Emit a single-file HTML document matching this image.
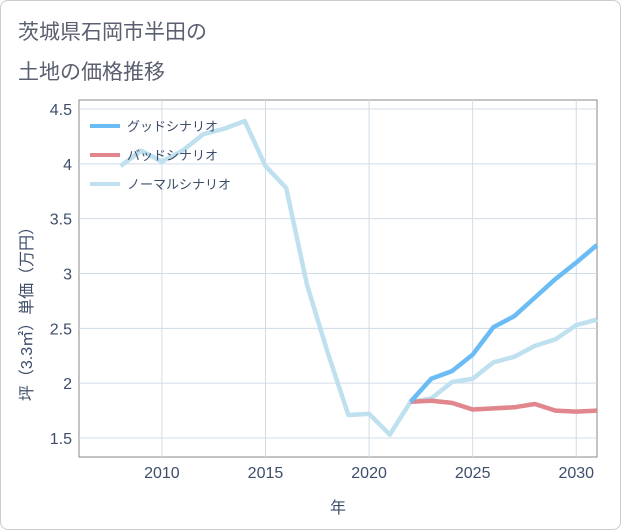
<!DOCTYPE html>
<html><head><meta charset="utf-8"><style>
body{margin:0;background:#fff;font-family:"Liberation Sans","Noto Sans CJK JP",sans-serif;}
#wrap{position:relative;width:621px;height:530px;overflow:hidden;}
#frame{position:absolute;left:0;top:0;width:619px;height:528px;border:1px solid #ccc;border-radius:8px;}
.title{position:absolute;left:18px;font-size:21px;color:#5a6070;}
</style></head><body>
<div id="wrap">
<div id="frame"></div>
<div class="title" style="top:16px">茨城県石岡市半田の</div>
<div class="title" style="top:56px">土地の価格推移</div>
<svg id="chart" width="621" height="530" style="position:absolute;left:0;top:0"></svg>
</div>
<script>
const years=[2008,2009,2010,2011,2012,2013,2014,2015,2016,2017,2018,2019,2020,2021,2022,2023,2024,2025,2026,2027,2028,2029,2030,2031];
const normalVals=[3.98,4.12,4.02,4.12,4.27,4.32,4.39,3.98,3.78,2.9,2.28,1.71,1.72,1.53,1.83,1.86,2.01,2.04,2.19,2.24,2.34,2.40,2.53,2.58];
const scenYears=[2022,2023,2024,2025,2026,2027,2028,2029,2030,2031];
const goodVals=[1.83,2.04,2.11,2.26,2.51,2.61,2.78,2.95,3.10,3.26];
const badVals=[1.83,1.84,1.82,1.76,1.77,1.78,1.81,1.75,1.74,1.75];
const xTicks=[2010,2015,2020,2025,2030];
const yTicks=[1.5,2,2.5,3,3.5,4,4.5];
const yTickLabels=["1.5","2","2.5","3","3.5","4","4.5"];
const L=79,R=597,T=100,B=457;
const x=v=>L+(v-2006)/(2031-2006)*(R-L);
const y=v=>438-(v-1.5)/3*329;
const svg=document.getElementById('chart');
const NS='http://www.w3.org/2000/svg';
function mk(t,a){const e=document.createElementNS(NS,t);for(const k in a)e.setAttribute(k,a[k]);svg.appendChild(e);return e;}
let e=mk('rect',{x:L,y:T,width:R-L,height:B-T,fill:'#fff',stroke:'#888','stroke-width':1});


xTicks.forEach(t=>{
 let g=mk('line',{x1:x(t),x2:x(t),y1:T,y2:B,stroke:'#d0dce8'});
 
 
 let tx=mk('text',{x:x(t),y:478,'text-anchor':'middle','font-size':16,fill:'#3d4d6a'});
 tx.textContent=t;
 
 
});
yTicks.forEach((t,i)=>{
 let g=mk('line',{x1:L,x2:R,y1:y(t),y2:y(t),stroke:'#d0dce8'});
 
 
 let tx=mk('text',{x:72,y:y(t)+6,'text-anchor':'end','font-size':16,fill:'#3d4d6a'});
 tx.textContent=yTickLabels[i];
 
 
});
function line(xs,vs,color,name){
 let p=mk('polyline',{points:xs.map((v,i)=>x(v)+','+y(vs[i])).join(' '),fill:'none',stroke:color,'stroke-width':4.5,'stroke-linejoin':'round'});
 
 
}
line(years,normalVals,'#bfe0ee','normal-scenario-line');
line(scenYears,badVals,'#e0868c','bad-scenario-line');
line(scenYears,goodVals,'#6bbcf4','good-scenario-line');
const legend=[['グッドシナリオ','#6bbcf4'],['バッドシナリオ','#e0868c'],['ノーマルシナリオ','#bfe0ee']];
legend.forEach((l,i)=>{
 let ly=126+i*29;
 let s=mk('line',{x1:90,x2:120,y1:ly,y2:ly,stroke:l[1],'stroke-width':4});
 
 
 let t=mk('text',{x:127,y:ly+5,'font-size':13,fill:'#3d4d6a'});
 t.textContent=l[0];
 
 
});
let xt=mk('text',{x:338,y:513,'text-anchor':'middle','font-size':16,fill:'#3d4d6a'});
xt.textContent='年';


let yt=mk('text',{x:0,y:0,'text-anchor':'middle','font-size':16,fill:'#3d4d6a',transform:'translate(32,310) rotate(-90)'});
yt.textContent='坪（3.3㎡）単価（万円）';


</script>
</body></html>
